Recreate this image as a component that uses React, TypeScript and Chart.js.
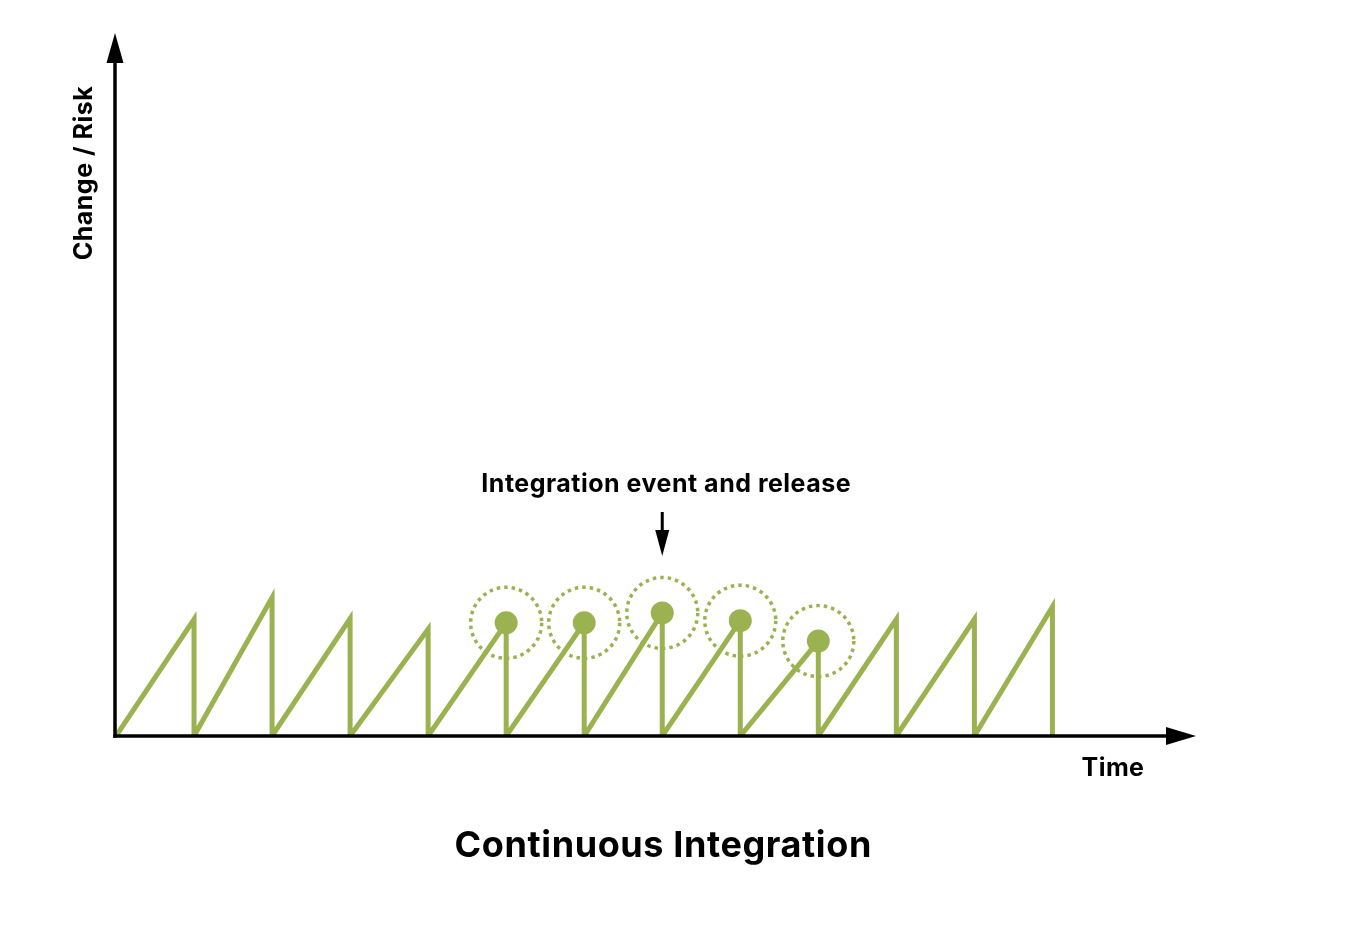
import React, { useEffect, useRef } from "react";
import { Chart, registerables } from "chart.js";

Chart.register(...registerables);

// ---- Data ----
const TOOTH_POSITIONS = [1, 2, 3, 4, 5, 6, 7, 8, 9, 10, 11, 12];
const PEAK_RISK = [16.6, 19.7, 16.7, 15.2, 16.1, 16.1, 17.5, 16.4, 13.5, 16.6, 16.6, 18.4];
const INTEGRATION_TEETH = [5, 6, 7, 8, 9];
const ANNOTATED_TOOTH = 7;
const TITLE_TEXT = "Continuous Integration";
const X_LABEL = "Time";
const Y_LABEL = "Change / Risk";
const ANNOTATION_TEXT = "Integration event and release";

const GREEN = "#9AB350";
const FONT = "Inter, Lato, sans-serif";

const sawtooth: { x: number; y: number }[] = [{ x: 0, y: 0 }];
TOOTH_POSITIONS.forEach((t, i) => {
  sawtooth.push({ x: t, y: PEAK_RISK[i] });
  sawtooth.push({ x: t, y: 0 });
});
const integrationPoints = INTEGRATION_TEETH.map((t) => ({
  x: t,
  y: PEAK_RISK[TOOTH_POSITIONS.indexOf(t)],
}));

const decorPlugin = {
  id: "decor",
  beforeDatasetsDraw(chart: any) {
    const ctx = chart.ctx;
    const meta = chart.getDatasetMeta(1);
    ctx.save();
    ctx.strokeStyle = GREEN;
    ctx.lineWidth = 3.5;
    ctx.setLineDash([3.5, 4]);
    meta.data.forEach((pt: any) => {
      ctx.beginPath();
      ctx.arc(pt.x, pt.y, 35.5, 0, Math.PI * 2);
      ctx.stroke();
    });
    ctx.restore();
  },
  afterDatasetsDraw(chart: any) {
    const ctx = chart.ctx;
    const { left, right, top } = chart.chartArea;
    const y0 = chart.scales.y.getPixelForValue(0);
    const x0 = left - 1;
    ctx.save();
    ctx.strokeStyle = "#000";
    ctx.fillStyle = "#000";
    ctx.lineWidth = 3.5;
    // x axis
    ctx.beginPath();
    ctx.moveTo(x0 - 1.75, y0);
    ctx.lineTo(right - 26, y0);
    ctx.stroke();
    ctx.beginPath();
    ctx.moveTo(right - 30, y0 - 9);
    ctx.lineTo(right, y0);
    ctx.lineTo(right - 30, y0 + 9);
    ctx.closePath();
    ctx.fill();
    // y axis
    ctx.beginPath();
    ctx.moveTo(x0, y0 + 1.75);
    ctx.lineTo(x0, top + 26);
    ctx.stroke();
    ctx.beginPath();
    ctx.moveTo(x0 - 8.5, top + 30);
    ctx.lineTo(x0, top);
    ctx.lineTo(x0 + 8.5, top + 30);
    ctx.closePath();
    ctx.fill();
    ctx.restore();
  },
  afterDraw(chart: any) {
    const ctx = chart.ctx;
    const { left, right, top } = chart.chartArea;
    const y0 = chart.scales.y.getPixelForValue(0);
    const ax = chart.scales.x.getPixelForValue(ANNOTATED_TOOTH);
    const ay = chart.scales.y.getPixelForValue(
      PEAK_RISK[TOOTH_POSITIONS.indexOf(ANNOTATED_TOOTH)]
    );
    ctx.save();
    ctx.fillStyle = "#000";
    ctx.textAlign = "center";
    ctx.textBaseline = "alphabetic";
    // y label
    ctx.save();
    ctx.translate(left - 24, top + 140);
    ctx.rotate(-Math.PI / 2);
    ctx.font = `bold 25px ${FONT}`;
    ctx.letterSpacing = "0.5px";
    ctx.fillText(Y_LABEL, 0, 0);
    ctx.restore();
    // x label
    ctx.font = `bold 25px ${FONT}`;
    ctx.letterSpacing = "0.4px";
    ctx.fillText(X_LABEL, right - 83, y0 + 40);
    // annotation
    ctx.letterSpacing = "0.5px";
    ctx.fillText(ANNOTATION_TEXT, ax + 4, ay - 121);
    ctx.strokeStyle = "#000";
    ctx.lineWidth = 3;
    ctx.beginPath();
    ctx.moveTo(ax, ay - 101);
    ctx.lineTo(ax, ay - 80);
    ctx.stroke();
    ctx.beginPath();
    ctx.moveTo(ax - 7, ay - 83);
    ctx.lineTo(ax, ay - 57);
    ctx.lineTo(ax + 7, ay - 83);
    ctx.closePath();
    ctx.fill();
    // title
    ctx.font = `bold 36px ${FONT}`;
    ctx.letterSpacing = "0.6px";
    ctx.fillText(TITLE_TEXT, ax + 1, y0 + 121);
    ctx.restore();
  },
};

export default function App() {
  const ref = useRef<HTMLCanvasElement | null>(null);
  useEffect(() => {
    if (!ref.current) return;
    const chart = new Chart(ref.current, {
      type: "scatter",
      data: {
        datasets: [
          {
            data: sawtooth,
            showLine: true,
            borderColor: GREEN,
            borderWidth: 5,
            pointRadius: 0,
            borderJoinStyle: "miter",
            tension: 0,
          },
          {
            data: integrationPoints,
            pointRadius: 11.5,
            pointBackgroundColor: GREEN,
            pointBorderWidth: 0,
            showLine: false,
          },
        ],
      },
      options: {
        responsive: false,
        animation: false,
        layout: { padding: { left: 116, right: 166, top: 33, bottom: 192 } },
        scales: {
          x: { type: "linear", min: 0, max: 13.84, display: false },
          y: { type: "linear", min: 0, max: 100, display: false },
        },
        plugins: {
          legend: { display: false },
          tooltip: { enabled: false },
        },
      },
      plugins: [decorPlugin],
    });
    return () => chart.destroy();
  }, []);
  return (
    <div style={{ position: "fixed", left: 0, top: 0, width: 1362, height: 928, background: "#fff" }}>
      <canvas ref={ref} width={1362} height={928} />
    </div>
  );
}
